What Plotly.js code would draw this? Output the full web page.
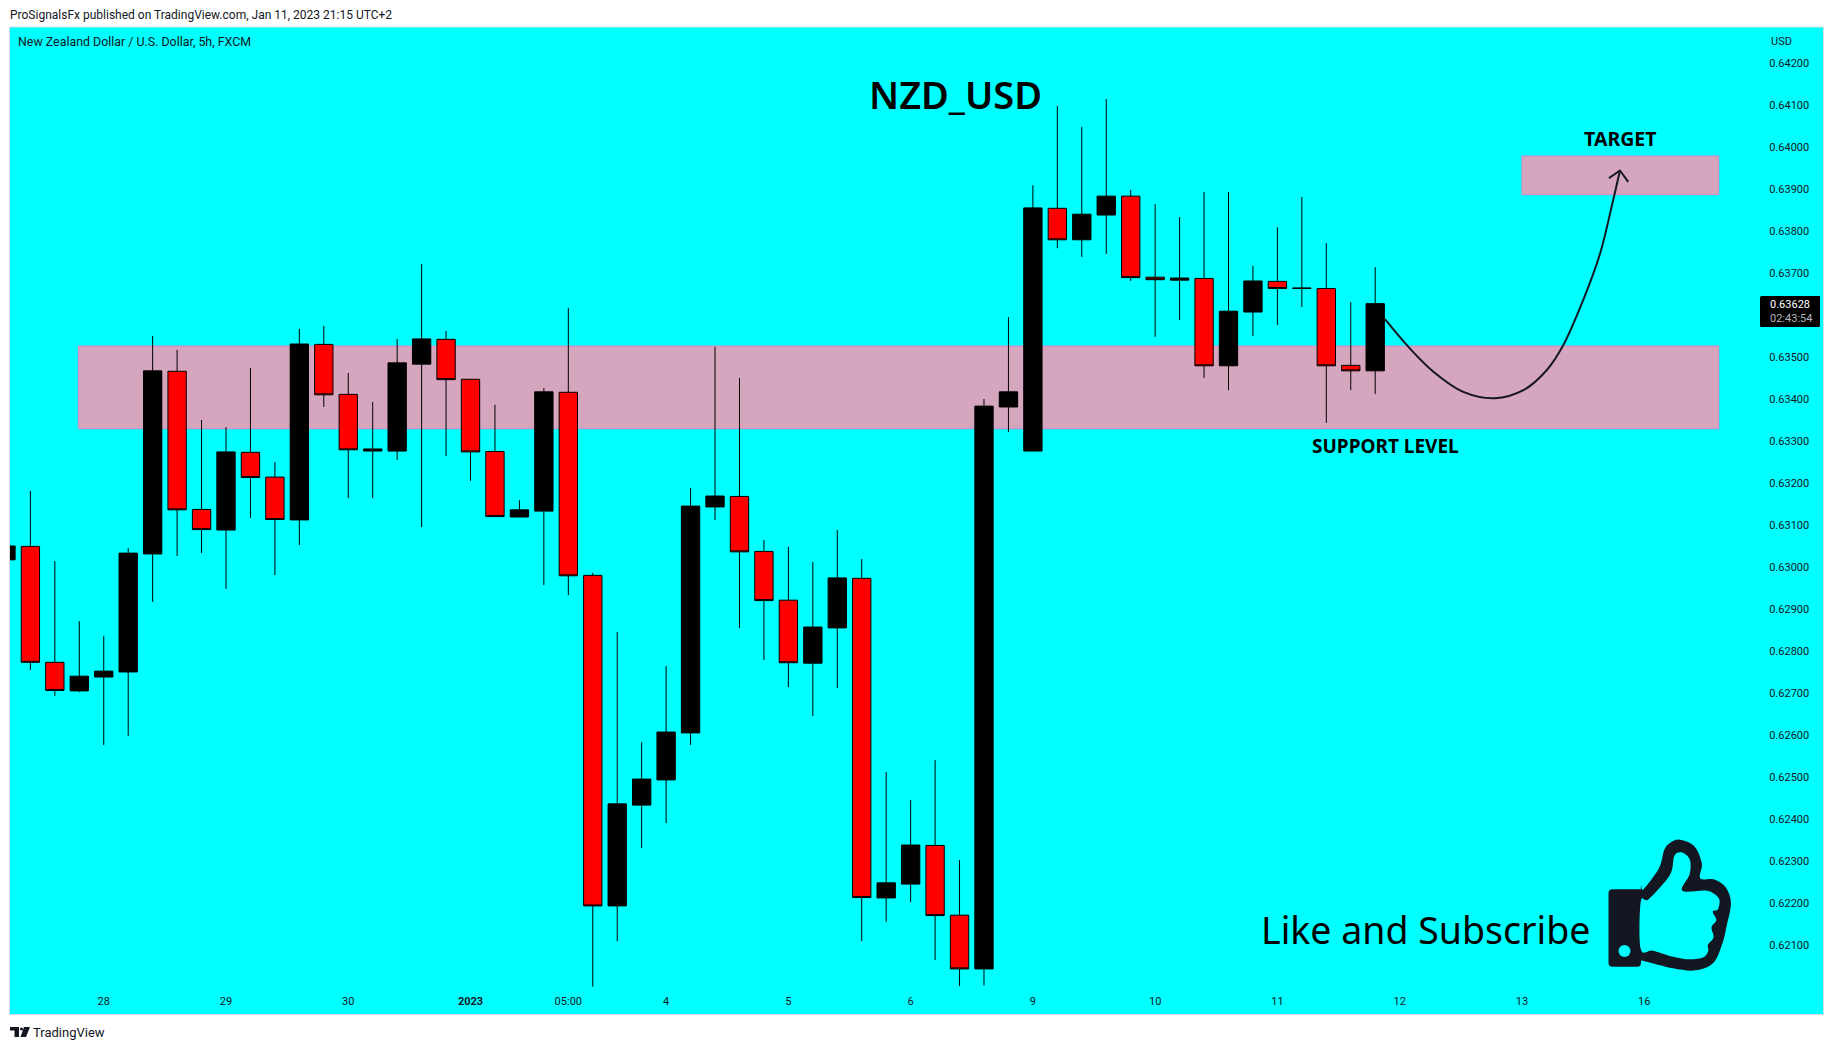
<!DOCTYPE html>
<html>
<head>
<meta charset="utf-8">
<script src="https://cdn.plot.ly/plotly-3.0.1.min.js"></script>
<style>html,body{margin:0;padding:0;background:#fff;overflow:hidden}#chart{width:1834px;height:1050px}</style>
</head>
<body>
<div id="chart"></div>
<script>
const candleIndex = [-1,0,1,2,3,4,5,6,7,8,9,10,11,12,13,14,15,16,17,18,19,20,21,22,23,24,25,26,27,28,29,30,31,32,33,34,35,36,37,38,39,40,41,42,43,44,45,46,47,48,49,50,51,52,53,54,55];
const openPrices = [.63018,.63050,.62774,.62706,.62739,.62751,.63032,.63467,.63138,.63089,.63274,.63215,.63113,.63531,.63412,.63277,.63277,.63484,.63543,.63448,.63276,.63120,.63134,.63417,.62981,.62194,.62434,.62494,.62606,.63144,.63169,.63038,.62922,.62772,.62856,.62974,.62213,.62246,.62338,.62172,.62044,.63382,.63277,.63855,.63780,.63839,.63884,.63691,.63684,.63688,.63480,.63608,.63681,.63664,.63664,.63481,.63468];
const highPrices = [.63060,.63182,.63015,.62872,.62837,.63046,.63551,.63518,.63351,.63334,.63475,.63251,.63568,.63575,.63463,.63394,.63544,.63722,.63563,.63449,.63387,.63160,.63427,.63618,.62987,.62846,.62584,.62765,.63189,.63525,.63451,.63065,.63049,.63013,.63089,.63020,.62513,.62446,.62541,.62303,.63401,.63596,.63910,.64099,.64049,.64115,.63899,.63865,.63834,.63894,.63894,.63718,.63810,.63882,.63772,.63632,.63715];
const lowPrices = [.63010,.62756,.62694,.62703,.62577,.62599,.62918,.63027,.63034,.62949,.63118,.62982,.63053,.63382,.63165,.63165,.63256,.63096,.63265,.63206,.63120,.63120,.62958,.62934,.62002,.62110,.62332,.62391,.62577,.63113,.62856,.62780,.62715,.62646,.62713,.62110,.62156,.62203,.62065,.62003,.62005,.63322,.63277,.63760,.63739,.63746,.63682,.63549,.63589,.63451,.63422,.63551,.63577,.63620,.63344,.63422,.63413];
const closePrices = [.63051,.62774,.62707,.62741,.62753,.63034,.63468,.63137,.63090,.63275,.63214,.63114,.63532,.63411,.63280,.63282,.63487,.63544,.63447,.63275,.63121,.63137,.63418,.62980,.62194,.62437,.62496,.62608,.63146,.63170,.63037,.62921,.62773,.62858,.62975,.62214,.62249,.62339,.62171,.62044,.63384,.63418,.63856,.63780,.63841,.63884,.63690,.63685,.63689,.63480,.63610,.63682,.63664,.63665,.63480,.63468,.63628];

const priceTicks = [.642,.641,.640,.639,.638,.637,.635,.634,.633,.632,.631,.630,.629,.628,.627,.626,.625,.624,.623,.622,.621];
const priceLabels = ['0.64200','0.64100','0.64000','0.63900','0.63800','0.63700','0.63500','0.63400','0.63300','0.63200','0.63100','0.63000','0.62900','0.62800','0.62700','0.62600','0.62500','0.62400','0.62300','0.62200','0.62100'];
const timeTicks = [3,8,13,18,22,26,31,36,41,46,51,56,61,66];
const timeLabels = ['28','29','30','<b>2023</b>','05:00','4','5','6','9','10','11','12','13','16'];

const supportZone = [0.633302, 0.635271];
const targetZone = [0.638874, 0.639795];
const zoneIndex = {support:[1.96,69.05], target:[61,69.05]};

const pathIndex = [55.40,56.36,57.38,58.60,59.90,61.06,62.02,62.70,63.51,64.20,64.67,65.01];
const pathPrice = [.63591,.63525,.63466,.63418,.63403,.63422,.63470,.63530,.63637,.63748,.63859,.63945];
const headIndex = [64.56,65.01,65.35];
const headPrice = [.63927,.63945,.63918];

const L=10,R=1763,T=27,B=990;
const X=p=>(p-L)/(R-L), Y=p=>1-(p-T)/(B-T);
const INK='#131722', CYAN='#00ffff';

function smooth(pts){
  const n=pts.length; let d=`M${X(pts[0][0])},${Y(pts[0][1])}`;
  for(let i=0;i<n;i++){
    const p0=pts[(i-1+n)%n],p1=pts[i],p2=pts[(i+1)%n],p3=pts[(i+2)%n];
    const c1=[p1[0]+(p2[0]-p0[0])/6,p1[1]+(p2[1]-p0[1])/6], c2=[p2[0]-(p3[0]-p1[0])/6,p2[1]-(p3[1]-p1[1])/6];
    d+=`C${X(c1[0])},${Y(c1[1])} ${X(c2[0])},${Y(c2[1])} ${X(p2[0])},${Y(p2[1])}`;
  }
  return d+'Z';
}
function rounded(x0,y0,x1,y1,r){
  return `M${X(x0+r)},${Y(y0)}L${X(x1)},${Y(y0)}L${X(x1)},${Y(y1-r)}Q${X(x1)},${Y(y1)} ${X(x1-r)},${Y(y1)}L${X(x0+r)},${Y(y1)}Q${X(x0)},${Y(y1)} ${X(x0)},${Y(y1-r)}L${X(x0)},${Y(y0+r)}Q${X(x0)},${Y(y0)} ${X(x0+r)},${Y(y0)}Z`;
}
const zx=v=>1200+v/2.473, zy=v=>800+v/3;
const zp=a=>a.map(q=>[zx(q[0]),zy(q[1])]);
const handOuter=zp([[1090,268],[1097,268],[1135,205],[1148,150],[1163,128],[1187,119],[1222,138],[1241,190],[1237,235],[1270,238],[1300,262],[1313,310],[1302,380],[1292,430],[1270,488],[1225,511],[1170,505],[1095,482],[1085,482]]);
const handInner=zp([[1090,305],[1110,297],[1162,225],[1173,168],[1190,157],[1211,178],[1211,222],[1193,272],[1254,272],[1283,295],[1281,328],[1268,335],[1277,360],[1265,382],[1270,412],[1256,435],[1257,452],[1245,472],[1210,478],[1170,470],[1120,452],[1090,447]]);
const paperRect=(x0,y0,x1,y1,fill,line,layer)=>({type:'rect',xref:'paper',yref:'paper',x0:X(x0),x1:X(x1),y0:Y(y1),y1:Y(y0),fillcolor:fill,line:line||{width:0},layer:layer||'below'});
const pathShape=(d,fill)=>({type:'path',xref:'paper',yref:'paper',path:d,fillcolor:fill,line:{width:0},layer:'above'});
const zone=(xs,ys)=>({type:'rect',xref:'x',yref:'y',x0:xs[0],x1:xs[1],y0:ys[0],y1:ys[1],fillcolor:'#d6a6bf',line:{color:'#d986c8',width:1},layer:'below'});

const shapes=[
  paperRect(9.5,27,1823.5,1014.5,CYAN,{color:'#d5dbe3',width:1}),
  zone(zoneIndex.support,supportZone),
  zone(zoneIndex.target,targetZone),
  pathShape(rounded(1760,296,1820,327,1.5),'#000000'),
  pathShape(smooth(handOuter),INK),
  pathShape(rounded(1608.5,889.3,1641,966.7,4),INK),
  pathShape(smooth(handInner),CYAN),
  {type:'circle',xref:'paper',yref:'paper',x0:X(1618.5),x1:X(1630.5),y0:Y(957),y1:Y(945),fillcolor:CYAN,line:{width:0},layer:'above'},
  paperRect(10,1027,19,1030.5,INK,null,'above'),
  paperRect(14.5,1027,19,1037,INK,null,'above'),
  pathShape(`M${X(24)},${Y(1027)}L${X(30)},${Y(1027)}L${X(26)},${Y(1037)}L${X(20.5)},${Y(1037)}Z`,INK),
  {type:'circle',xref:'paper',yref:'paper',x0:X(20),x1:X(23),y0:Y(1030.5),y1:Y(1027.5),fillcolor:INK,line:{width:0},layer:'above'}
];

const note=(text,x,y,size,opt)=>Object.assign({xref:'paper',yref:'paper',x:X(x),y:Y(y),text,showarrow:false,xanchor:'center',yanchor:'middle',font:{family:'Roboto, sans-serif',size,color:INK}},opt||{});
const annotations=[
  note('ProSignalsFx published on TradingView.com, Jan 11, 2023 21:15 UTC+2',8,14.7,12,{xanchor:'left'}),
  note('New Zealand Dollar / U.S. Dollar, 5h, FXCM',16,41.7,12.4,{xanchor:'left'}),
  note('USD',1769,41,11,{xanchor:'left'}),
  note('TradingView',31,1032.5,13,{xanchor:'left'}),
  note('NZD_USD',955,94,38,{font:{family:'Noto Sans, sans-serif',size:38,color:'#000',weight:600}}),
  note('<b>TARGET</b>',1620,139,19.5,{font:{family:'Noto Sans, sans-serif',size:19.5,color:'#000'}}),
  note('<b>SUPPORT LEVEL</b>',1385.5,446,19,{font:{family:'Noto Sans, sans-serif',size:19,color:'#000'}}),
  note('Like and Subscribe',1425,929,37.5,{font:{family:'Noto Sans, sans-serif',size:37.5,color:'#000'}}),
  note('0.63628',1768,304.5,11,{xanchor:'left',font:{family:'Roboto, sans-serif',size:11,color:'#ffffff'}}),
  note('02:43:54',1768,318.5,11,{xanchor:'left',font:{family:'Roboto, sans-serif',size:11,color:'#b2b5be'}})
];

const traces=[
 {type:'candlestick',x:candleIndex,open:openPrices,high:highPrices,low:lowPrices,close:closePrices,whiskerwidth:0,hoverinfo:'skip',showlegend:false,
  increasing:{line:{color:'#000000',width:1},fillcolor:'#000000'},
  decreasing:{line:{color:'#000000',width:1},fillcolor:'#ff0000'}},
 {type:'scatter',mode:'lines',x:pathIndex,y:pathPrice,line:{color:INK,width:2,shape:'spline',smoothing:1},hoverinfo:'skip',showlegend:false},
 {type:'scatter',mode:'lines',x:headIndex,y:headPrice,line:{color:INK,width:2},hoverinfo:'skip',showlegend:false}
];

const layout={
  width:1834,height:1050,paper_bgcolor:'#ffffff',plot_bgcolor:CYAN,showlegend:false,
  margin:{l:L,r:1834-R,t:T,b:1050-B,pad:0},boxgap:0.25,boxgroupgap:0,
  xaxis:{type:'linear',range:[-0.834,70.86],rangeslider:{visible:false},tickmode:'array',tickvals:timeTicks,ticktext:timeLabels,ticks:'outside',ticklen:1,tickcolor:CYAN,showgrid:false,zeroline:false,showline:false,tickangle:0,tickfont:{family:'Roboto, sans-serif',size:11,color:INK}},
  yaxis:{type:'linear',side:'right',range:[0.619938,0.642867],tickmode:'array',tickvals:priceTicks,ticktext:priceLabels,ticks:'outside',ticklen:3,tickcolor:CYAN,showgrid:false,zeroline:false,showline:false,tickfont:{family:'Roboto, sans-serif',size:11,color:INK}},
  shapes,annotations
};
Plotly.newPlot('chart',traces,layout,{displayModeBar:false,staticPlot:true});
</script>
</body>
</html>
